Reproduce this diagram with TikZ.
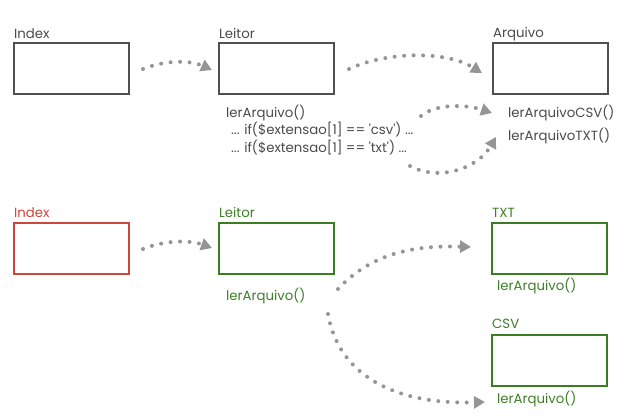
\documentclass[tikz,border=0pt]{standalone}
\usepackage{fontspec}
\setmainfont{Poppins}
\usetikzlibrary{arrows.meta,calc}
\definecolor{grayline}{HTML}{505050}
\definecolor{graytext}{HTML}{4A4A4A}
\definecolor{arrowgray}{HTML}{959595}
\definecolor{redline}{HTML}{D0453A}
\definecolor{greenline}{HTML}{3B7D23}
\definecolor{greentext}{HTML}{3E7F28}
\newcommand{\sq}{\textquotesingle}
\begin{document}
\begin{tikzpicture}[x=1pt,y=-1pt,
  box/.style={draw=grayline,line width=1.8pt,minimum width=115pt,minimum height=51pt,anchor=north west,inner sep=0pt,outer sep=0pt},
  lbl/.style={anchor=base west,inner sep=0pt,font=\fontsize{13.3}{15}\selectfont,text=graytext},
  txt/.style={anchor=base west,inner sep=0pt,font=\fontsize{13.3}{15}\selectfont,text=graytext},
  arr/.style={draw=arrowgray,line width=4pt,line cap=round,dash pattern=on 0pt off 9.5pt,-{Triangle[length=11pt,width=12pt]}},
  red/.style={draw=redline},
  green/.style={draw=greenline},
  gtext/.style={text=greentext}]
\useasboundingbox (0,0) rectangle (625,416);
% top row
\node[box] (index1) at (14,43) {};
\node[box] (leitor1) at (219,43) {};
\node[box] (arq1) at (493,43) {};
\node[lbl] (lindex1) at (14,38) {Index};
\node[lbl] (lleitor1) at (219,38) {Leitor};
\node[lbl] (larq1) at (493,37) {Arquivo};
\node[txt] (ler1) at (226,117) {lerArquivo()};
\node[txt] (ifcsv) at (231,134) {... if(\$extensao[1] == \sq csv\sq) ...};
\node[txt] (iftxt) at (231,152) {... if(\$extensao[1] == \sq txt\sq) ...};
\node[txt] (lcsv) at (508,117) {lerArquivoCSV()};
\node[txt] (ltxt) at (508,140) {lerArquivoTXT()};
\coordinate (a1s) at (143,69);
\coordinate (a1e) at (212,70);
\coordinate (a2s) at (349,69);
\coordinate (a2e) at (482,73);
\coordinate (a3s) at (421,116);
\coordinate (a3e) at (492,113);
\coordinate (a4s) at (410,166);
\coordinate (a4e) at (496,137);
\draw[arr] (a1s) .. controls (165,60) and (190,60) .. (a1e);
\draw[arr] (a2s) .. controls (385,52) and (445,50) .. (a2e);
\draw[arr] (a3s) .. controls (435,104) and (465,104) .. (a3e);
\draw[arr] (a4s) .. controls (440,182) and (478,168) .. (a4e);
% bottom row
\node[box,red] (index2) at (14,223) {};
\node[box,green] (leitor2) at (219,223) {};
\node[box,green] (txtb) at (492,223) {};
\node[box,green] (csvb) at (492,335) {};
\node[lbl,text=redline] (lindex2) at (14,217) {Index};
\node[lbl,gtext] (lleitor2) at (219,217) {Leitor};
\node[lbl,gtext] (ltxtb) at (492,217) {TXT};
\node[lbl,gtext] (lcsvb) at (492,328) {CSV};
\node[txt,gtext] (ler2) at (226,300) {lerArquivo()};
\node[txt,gtext] (ler3) at (497,290) {lerArquivo()};
\node[txt,gtext] (ler4) at (497,403) {lerArquivo()};
\coordinate (b1s) at (143,249);
\coordinate (b1e) at (212,248);
\coordinate (b2s) at (338,289);
\coordinate (b2e) at (471,247);
\coordinate (b3s) at (328,314);
\coordinate (b3e) at (485,402);
\draw[arr] (b1s) .. controls (165,240) and (190,240) .. (b1e);
\draw[arr] (b2s) .. controls (370,255) and (410,245) .. (b2e);
\draw[arr] (b3s) .. controls (338,372) and (390,405) .. (b3e);
\end{tikzpicture}
\end{document}
